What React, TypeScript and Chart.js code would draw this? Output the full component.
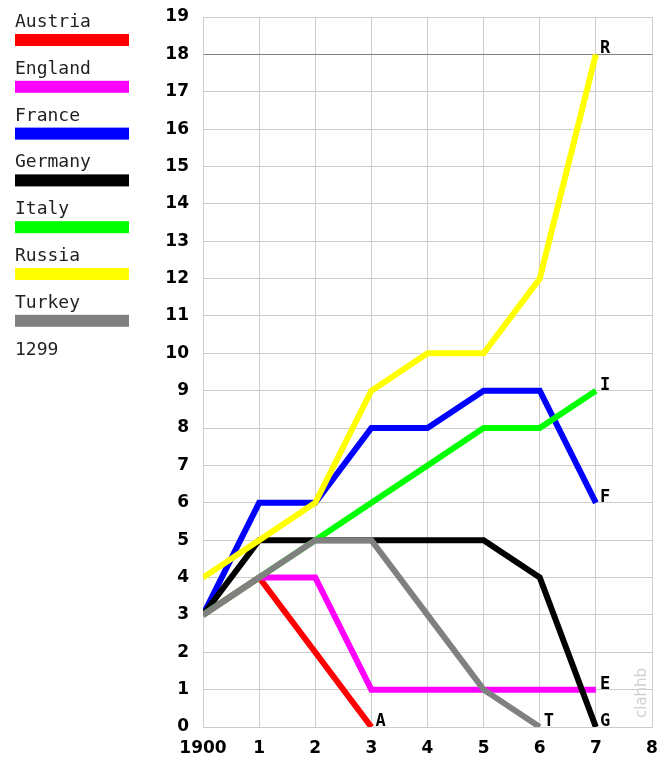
import React, { useEffect, useRef } from "react";
import { Chart, registerables } from "chart.js";

Chart.register(...registerables);

const years = [0, 1, 2, 3, 4, 5, 6, 7];
const countries = ["Austria", "England", "France", "Germany", "Italy", "Russia", "Turkey"];
const colors = ["#ff0000", "#ff00ff", "#0000ff", "#000000", "#00ff00", "#ffff00", "#808080"];
const endLabels = ["A", "E", "F", "G", "I", "R", "T"];
const austria = [3, 4, 2, 0];
const england = [3, 4, 4, 1, 1, 1, 1, 1];
const france = [3, 6, 6, 8, 8, 9, 9, 6];
const germany = [3, 5, 5, 5, 5, 5, 4, 0];
const italy = [3, 4, 5, 6, 7, 8, 8, 9];
const russia = [4, 5, 6, 9, 10, 10, 12, 18];
const turkey = [3, 4, 5, 5, 3, 1, 0];
const series = [austria, england, france, germany, italy, russia, turkey];
const xTickLabels = ["1900", "1", "2", "3", "4", "5", "6", "7", "8"];
const footerLabel = "1299";
const watermark = "clahhb";

const legendPlugin = {
  id: "sideLegend",
  afterDraw(chart: any) {
    const ctx = chart.ctx;
    ctx.save();
    ctx.font = '18px "DejaVu Sans Mono"';
    ctx.textBaseline = "alphabetic";
    ctx.textAlign = "left";
    const step = 46.8;
    countries.forEach((name, i) => {
      const top = 34 + i * step;
      ctx.fillStyle = "#222";
      ctx.fillText(name, 15, top - 7);
      ctx.fillStyle = colors[i];
      ctx.fillRect(15, top, 114, 12);
    });
    ctx.fillStyle = "#222";
    ctx.fillText(footerLabel, 15, 34 + 7 * step - 7);
    // watermark
    ctx.translate(646, 718);
    ctx.rotate(-Math.PI / 2);
    ctx.font = '15px "DejaVu Sans"';
    ctx.fillStyle = "#d0d0d0";
    ctx.fillText(watermark, 0, 0);
    ctx.restore();
  },
};

const endLabelPlugin = {
  id: "endLabels",
  afterDatasetsDraw(chart: any) {
    const ctx = chart.ctx;
    ctx.save();
    ctx.font = 'bold 17px "DejaVu Sans Mono"';
    ctx.fillStyle = "#000";
    ctx.textAlign = "left";
    ctx.textBaseline = "alphabetic";
    chart.data.datasets.forEach((ds: any, i: number) => {
      const meta = chart.getDatasetMeta(i);
      const pt = meta.data[meta.data.length - 1];
      if (!pt) return;
      ctx.fillText(endLabels[i], pt.x + 4, pt.y - 1);
    });
    ctx.restore();
  },
};

export default function App() {
  const ref = useRef<HTMLCanvasElement>(null);
  useEffect(() => {
    document.body.style.margin = "0";
    const datasets = series.map((vals, i) => ({
      label: countries[i],
      data: vals.map((v, j) => ({ x: years[j], y: v })),
      borderColor: colors[i],
      backgroundColor: colors[i],
      borderWidth: 6,
      pointRadius: 0,
      tension: 0,
      fill: false,
      order: countries.length - i,
      borderCapStyle: "butt" as const,
      borderJoinStyle: "miter" as const,
    }));
    const chart = new Chart(ref.current!, {
      type: "line",
      data: { datasets },
      options: {
        animation: false,
        responsive: false,
        layout: { padding: { left: 150, right: 6, top: 17, bottom: 0 } },
        plugins: { legend: { display: false }, tooltip: { enabled: false } },
        scales: {
          x: {
            type: "linear",
            min: 0,
            max: 8,
            afterFit: (s: any) => {
              s.height = 33;
              s.paddingLeft = 0;
              s.paddingRight = 0;
            },
            border: { color: "#cccccc" },
            grid: { color: "#cccccc", drawTicks: false },
            ticks: {
              stepSize: 1,
              padding: 11,
              color: "#000",
              font: { family: "DejaVu Sans", weight: "bold", size: 17 },
              maxRotation: 0,
              callback: (v: any) => xTickLabels[v],
            },
          },
          y: {
            min: 0,
            max: 19,
            afterFit: (s: any) => {
              s.width = 53;
              s.paddingTop = 0;
              s.paddingBottom = 0;
            },
            border: { color: "#cccccc" },
            grid: {
              color: (c: any) => (c.tick && c.tick.value === 18 ? "#808080" : "#cccccc"),
              drawTicks: false,
            },
            ticks: {
              stepSize: 1,
              padding: 14,
              color: "#000",
              font: { family: "DejaVu Sans", weight: "bold", size: 17 },
            },
          },
        },
      },
      plugins: [legendPlugin, endLabelPlugin],
    });
    return () => chart.destroy();
  }, []);
  return <canvas ref={ref} width={658} height={760} />;
}
